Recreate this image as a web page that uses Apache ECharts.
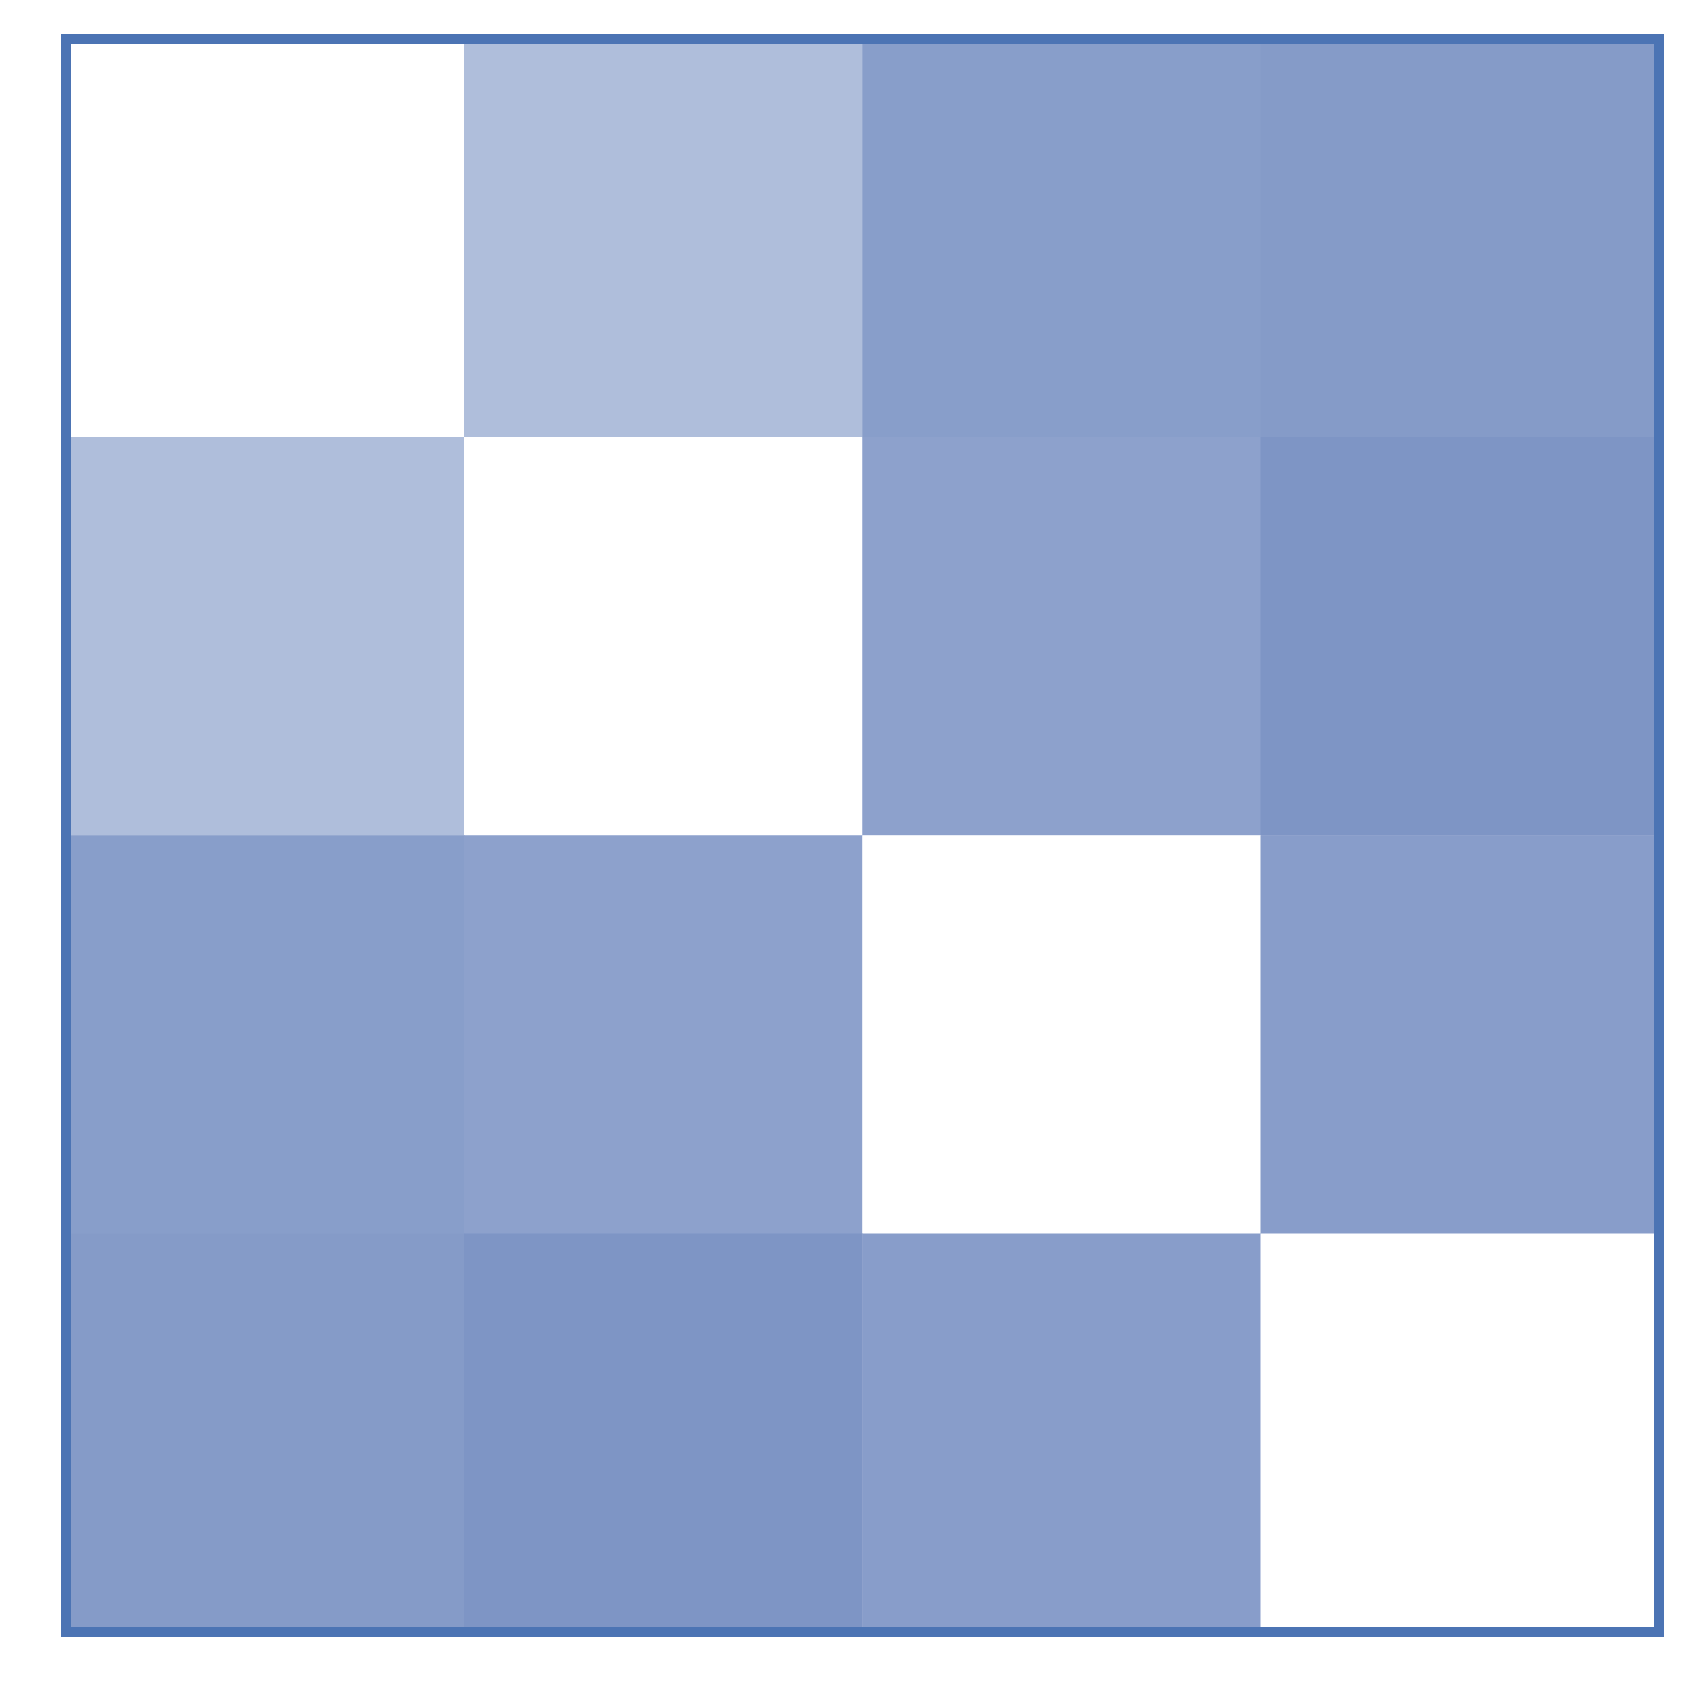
<!DOCTYPE html>
<html>
<head>
<meta charset="utf-8">
<script src="https://cdn.jsdelivr.net/npm/echarts@6/dist/echarts.min.js"></script>
<style>html,body{margin:0;padding:0;background:#fff;}#c{width:1699px;height:1699px;}</style>
</head>
<body>
<div id="c"></div>
<script>
var categories = ['A', 'B', 'C', 'D'];
var row0 = [0.00, 0.45, 0.67, 0.69];
var row1 = [0.45, 0.00, 0.645, 0.73];
var row2 = [0.67, 0.645, 0.00, 0.675];
var row3 = [0.69, 0.73, 0.675, 0.00];
var rows = [row0, row1, row2, row3];

var data = [];
rows.forEach(function (r, i) {
  r.forEach(function (v, j) { data.push([j, i, v]); });
});

var chart = echarts.init(document.getElementById('c'), null, {renderer: 'canvas'});
chart.setOption({
  animation: false,
  backgroundColor: '#ffffff',
  grid: {
    left: 66, top: 39, width: 1593, height: 1593,
    show: true, backgroundColor: 'transparent',
    borderColor: '#4c74b4', borderWidth: 10, z: 10
  },
  xAxis: { type: 'category', data: categories, show: false },
  yAxis: { type: 'category', data: categories, inverse: true, show: false },
  visualMap: {
    show: false, min: 0, max: 1, dimension: 2,
    inRange: { color: ['#ffffff', '#4e6eb0'] }
  },
  series: [{
    type: 'heatmap',
    data: data,
    itemStyle: { borderWidth: 0 },
    emphasis: { disabled: true }
  }]
});
</script>
</body>
</html>
